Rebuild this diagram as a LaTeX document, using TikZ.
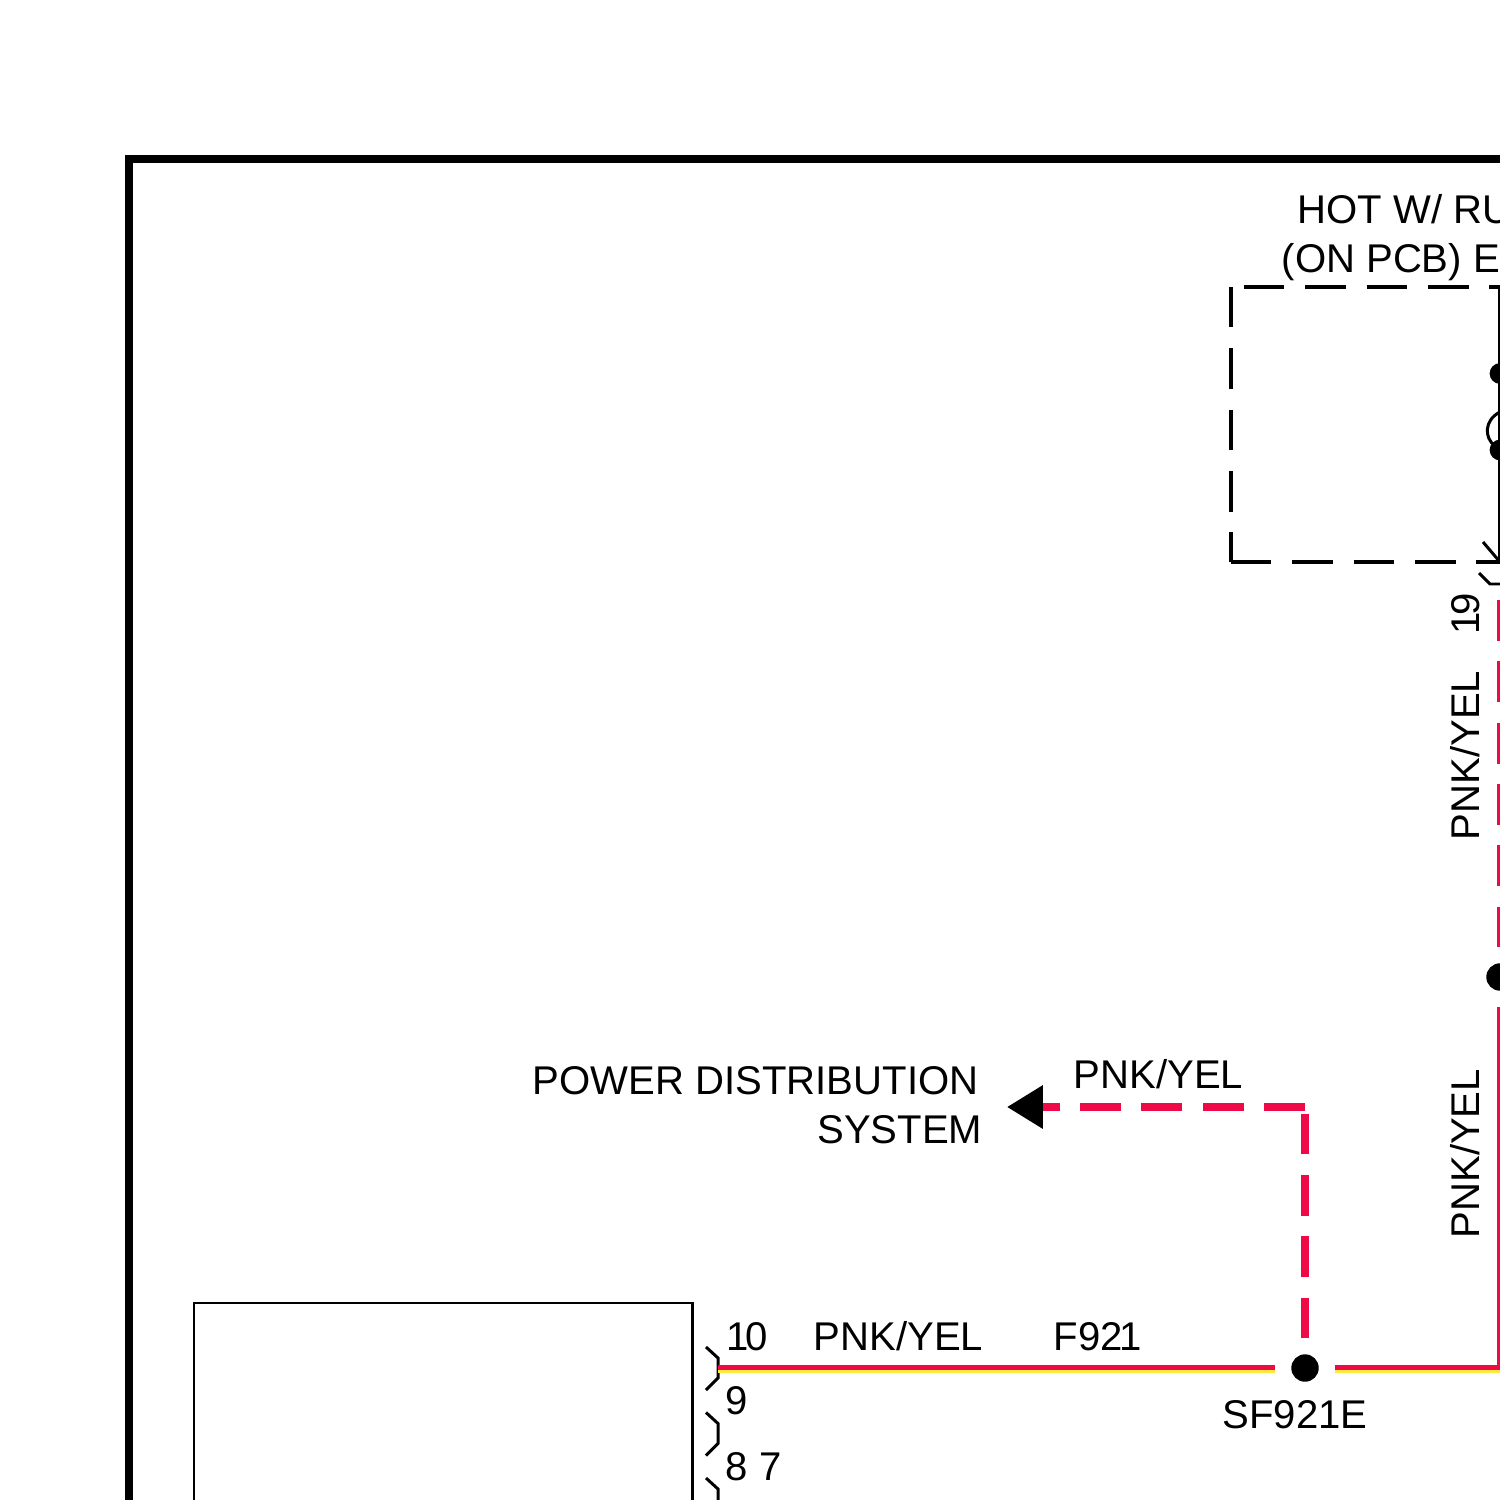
\documentclass[tikz,border=0pt]{standalone}
\usepackage{fontspec}
\setmainfont{Liberation Sans}
\usetikzlibrary{calc}
\usetikzlibrary{arrows.meta}

\tikzset{
    wirered/.style = {line width = 1.42pt, color = wirepink},
    wireyel/.style = {line width = 0.85pt, color = wireyellow},
    wiredash/.style = {line width = 2.28pt, color = wirepink, dash pattern = on 11.6pt off 5.85pt},
    boxdash/.style = {line width = 0.95pt, black, dash pattern = on 11.5pt off 5.95pt},
    dot/.style = {circle, fill = black, inner sep = 0pt, minimum size = 7.8pt, outer sep = 4.5pt},
    smalldot/.style = {circle, fill = black, inner sep = 0pt, minimum size = 5.9pt},
    label/.style = {inner sep = 0pt, font = \fontsize{11.4pt}{13pt}\selectfont},
    brace/.style = {line width = 0.85pt, black}
}
\definecolor{wirepink}{HTML}{EE0A46}
\definecolor{wireyellow}{HTML}{FFE93C}

\begin{document}
\begin{tikzpicture}[x = 0.01cm, y = -0.01cm]
    \path[use as bounding box, clip] (0,0) rectangle (1500,1500);

    % frame and module box
    \draw[line width = 2.3pt, black] (129,1600) -- (129,159) -- (1600,159);
    \node (module) [draw, line width = 0.8pt, anchor = north west, minimum width = 4.98cm, minimum height = 4cm, inner sep = 0pt, outer sep = 0pt] at (194,1303) {};

    % dashed box
    \coordinate (boxTL) at (1231,287);
    \coordinate (boxBL) at (1231,562);
    \coordinate (boxTS) at (1244,287);
    \coordinate (boxTR) at (1500,287);
    \coordinate (boxBR) at (1500,562);
    \draw[boxdash] (boxTS) -- (boxTR);
    \draw[boxdash] (boxTL) -- (boxBL);
    \draw[boxdash] (boxBL) -- (boxBR);

    % parts at the right edge
    \node (dotA) [smalldot] at (1500,373.5) {};
    \node (dotB) [smalldot] at (1500,450) {};
    \node (dotC) [dot] at (1500,977) {};
    \node (splice) [dot] at (1305,1368) {};
    \coordinate (wireTop) at (1499.5,287);
    \coordinate (wireEnd) at (1499.5,562);
    \draw[line width = 0.6pt, black] (wireTop) -- (wireEnd);
    \draw[brace] (1500,412) .. controls (1484,420) and (1484,438) .. (1495,446);
    \draw[brace] (1483,542) -- (1500,562);
    \draw[brace] (1479,573) -- (1490,584) -- (1500,584);

    % connector marks
    \foreach \y in {0,65.5,131} {
        \draw[brace] (706,1347+\y) -- (718,1358+\y) -- (718,1378+\y) -- (706,1390+\y);
    }

    % wires
    \coordinate (modulePin) at (718,1367);
    \coordinate (corner) at (1499.5,1367);
    \coordinate (cornerYel) at (1500,1371);
    \coordinate (arrowEnd) at (1007,1107);
    \coordinate (bendH) at (1305,1107);
    \coordinate (bendV) at (1305,1114);
    \coordinate (rightTop) at (1499.5,600);
    \draw[wireyel] (718,1371) -- (1275,1371);
    \draw[wireyel] (1335,1371) -- (cornerYel);
    \draw[wirered] (modulePin) -- (1275,1367);
    \draw[wirered] (1335,1367) -- (corner) -- (dotC.south -| corner);
    \draw[wiredash, line width = 1.42pt] (rightTop) -- (dotC.north -| rightTop);
    \draw[wiredash] (splice.north) -- (bendV);
    \draw[wiredash, -{Triangle[length = 10.2pt, width = 11.8pt, black]}] (bendH) -- (arrowEnd);

    % labels
    \node (hotA) [label, anchor = base west] at (1297,223) {HOT W/ RU};
    \node (hotB) [label, anchor = base west] at (1281,272) {(ON PCB) E};
    \node (pin19) [label, rotate = 90, anchor = base west] at (1479,635) {1\kern-1pt 9};
    \node (colA) [label, rotate = 90, anchor = base west] at (1479,841) {PNK/YEL};
    \node (colB) [label, rotate = 90, anchor = base west] at (1479,1239) {PNK/YEL};
    \node (colC) [label, anchor = base west] at (1073,1088) {PNK/YEL};
    \node (power) [label, anchor = base east] at (979,1094) {POWER DISTRIBUTION};
    \node (system) [label, anchor = base east] at (983,1143) {SYSTEM};
    \node (pin10) [label, anchor = base west] at (726,1350) {1\kern-1pt 0};
    \node (colD) [label, anchor = base west] at (813,1350) {PNK/YEL};
    \node (circuit) [label, anchor = base west] at (1053,1350) {F92\kern-1pt 1};
    \node (spliceName) [label, anchor = base west] at (1222,1428) {SF921E};
    \node (pin9) [label, anchor = base west] at (725,1414) {9};
    \node (pin87) [label, anchor = base west] at (725,1480) {8 7};
\end{tikzpicture}
\end{document}
